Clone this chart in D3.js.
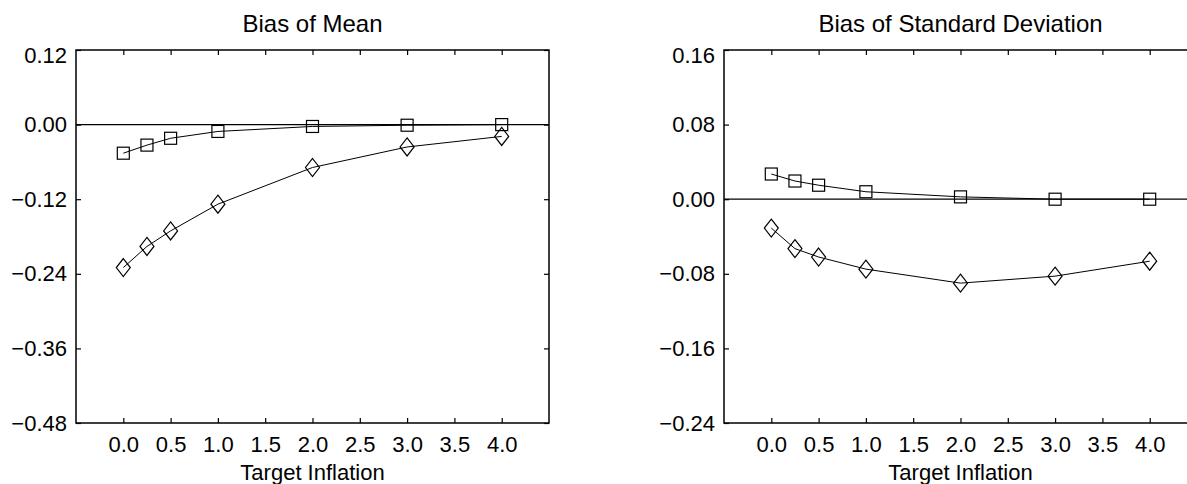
<!DOCTYPE html>
<html>
<head>
<meta charset="utf-8">
<script src="https://cdn.jsdelivr.net/npm/d3@7"></script>
<style>
body{margin:0;background:#fff;}
text{font-family:"Liberation Sans",Arial,sans-serif;fill:#000;}
</style>
</head>
<body>
<svg id="chart" width="1187" height="484"></svg>
<script>
// data
const targets = [0, 0.25, 0.5, 1, 2, 3, 4];
const xTicks = [0, 0.5, 1, 1.5, 2, 2.5, 3, 3.5, 4];

const meanSquare  = [-0.046, -0.033, -0.022, -0.011, -0.003, -0.001, 0.0];
const meanDiamond = [-0.230, -0.196, -0.171, -0.128, -0.069, -0.036, -0.019];
const meanTicks   = [-0.48, -0.36, -0.24, -0.12, 0, 0.12];

const sdSquare  = [0.027, 0.0195, 0.015, 0.008, 0.0025, 0.0, 0.0];
const sdDiamond = [-0.031, -0.053, -0.062, -0.075, -0.090, -0.0825, -0.0665];
const sdTicks   = [-0.24, -0.16, -0.08, 0, 0.08, 0.16];

const svg = d3.select('#chart');
const top0 = 50, bottom0 = 423;

const panels = [
  {title: 'Bias of Mean', left: 76, right: 549, yDomain: [-0.48, 0.12], yTicks: meanTicks, sq: meanSquare, di: meanDiamond},
  {title: 'Bias of Standard Deviation', left: 724, right: 1197, yDomain: [-0.24, 0.16], yTicks: sdTicks, sq: sdSquare, di: sdDiamond}
];

panels.forEach(p => drawPanel(p));

function drawPanel(p){
  const x = d3.scaleLinear().domain([-0.5, 4.5]).range([p.left, p.right]);
  const y = d3.scaleLinear().domain(p.yDomain).range([bottom0, top0]);
  const g = svg.append('g');
  const fmt = d3.format('.2f');

  // bottom axis with labels
  const xb = g.append('g').attr('transform', `translate(0,${bottom0})`)
    .call(d3.axisBottom(x).tickValues(xTicks).tickSize(-5).tickSizeOuter(0).tickPadding(13).tickFormat(d3.format('.1f')));
  // top axis ticks only
  const xt = g.append('g').attr('transform', `translate(0,${top0})`)
    .call(d3.axisTop(x).tickValues(xTicks).tickSize(-5).tickSizeOuter(0).tickFormat(''));
  // left axis with labels
  const yl = g.append('g').attr('transform', `translate(${p.left},0)`)
    .call(d3.axisLeft(y).tickValues(p.yTicks).tickSize(-5).tickSizeOuter(0).tickPadding(9).tickFormat(fmt));
  // right axis ticks only
  const yr = g.append('g').attr('transform', `translate(${p.right},0)`)
    .call(d3.axisRight(y).tickValues(p.yTicks).tickSize(-5).tickSizeOuter(0).tickFormat(''));

  [xb, xt, yl, yr].forEach(a => {
    a.select('.domain').remove();
    a.selectAll('line').attr('stroke', '#000').attr('stroke-width', 1.2);
    a.selectAll('text').style('font-size', '22px').attr('fill', '#000');
  });
  // top label sits a bit lower, like the original
  yl.selectAll('.tick text').filter(d => d === p.yDomain[1]).attr('dy', '0.55em');

  // frame
  g.append('rect')
    .attr('x', p.left).attr('y', top0)
    .attr('width', p.right - p.left).attr('height', bottom0 - top0)
    .attr('fill', 'none').attr('stroke', '#000').attr('stroke-width', 1.5);

  // zero line
  g.append('line')
    .attr('x1', x(-0.5)).attr('x2', x(4.5))
    .attr('y1', y(0)).attr('y2', y(0))
    .attr('stroke', '#000').attr('stroke-width', 1.3);

  const line = d3.line().x(d => x(d[0])).y(d => y(d[1]));
  [p.sq, p.di].forEach(vals => {
    g.append('path')
      .datum(targets.map((t, i) => [t, vals[i]]))
      .attr('d', line)
      .attr('fill', 'none').attr('stroke', '#000').attr('stroke-width', 1);
  });

  // square markers
  g.selectAll('.sq').data(targets.map((t, i) => [t, p.sq[i]])).enter()
    .append('rect').attr('class', 'sq')
    .attr('x', d => x(d[0]) - 6).attr('y', d => y(d[1]) - 6)
    .attr('width', 12).attr('height', 12)
    .attr('fill', 'none').attr('stroke', '#000').attr('stroke-width', 1.2);

  // diamond markers
  g.selectAll('.di').data(targets.map((t, i) => [t, p.di[i]])).enter()
    .append('path').attr('class', 'di')
    .attr('transform', d => `translate(${x(d[0])},${y(d[1])})`)
    .attr('d', 'M0,-9L7,0L0,9L-7,0Z')
    .attr('fill', 'none').attr('stroke', '#000').attr('stroke-width', 1.2);

  // titles
  g.append('text')
    .attr('x', (p.left + p.right) / 2).attr('y', 32)
    .attr('text-anchor', 'middle').style('font-size', '24px')
    .text(p.title);
  g.append('text')
    .attr('x', (p.left + p.right) / 2).attr('y', 480)
    .attr('text-anchor', 'middle').style('font-size', '22px')
    .text('Target Inflation');
}
</script>
</body>
</html>
